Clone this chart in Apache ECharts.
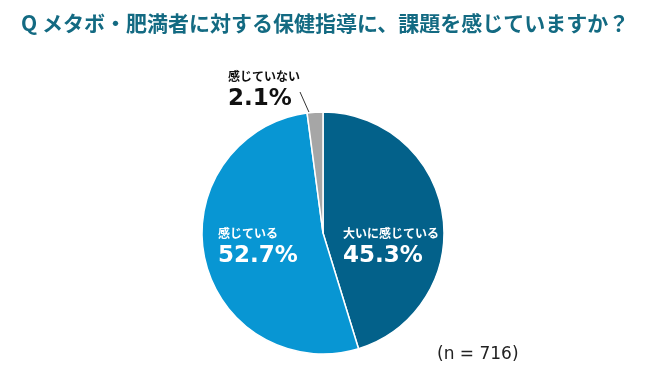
<!DOCTYPE html>
<html>
<head>
<meta charset="utf-8">
<script src="https://cdn.jsdelivr.net/npm/echarts@6/dist/echarts.min.js"></script>
<style>
html,body{margin:0;padding:0;background:#fff;}
#chart{width:649px;height:375px;}
</style>
</head>
<body>
<div id="chart"></div>
<script>
const titleText = 'Q メタボ・肥満者に対する保健指導に、課題を感じていますか？';
const categories = ['大いに感じている', '感じている', '感じていない'];
const values = [45.3, 52.7, 2.1];
const sliceColors = ['#03618a', '#0896d3', '#a6a6a6'];
const noteText = '(n = 716)';

const chart = echarts.init(document.getElementById('chart'));
const jp = '"Noto Sans CJK JP", sans-serif';
const num = '"DejaVu Sans", Verdana, sans-serif';

const data = categories.map((c, i) => {
  const d = { name: c, value: values[i], itemStyle: { color: sliceColors[i] } };
  if (i === 2) {
    d.label = {
      position: 'outside',
      formatter: p => '{n|' + p.name + '}\n{v|' + p.value.toFixed(1) + '%}',
      rich: {
        n: { fontFamily: jp, fontWeight: 'bold', fontSize: 12, color: '#111', lineHeight: 20, align: 'left' },
        v: { fontFamily: num, fontWeight: 'bold', fontSize: 23, color: '#111', lineHeight: 26, align: 'left' }
      }
    };
    d.labelLine = { show: true, showAbove: true, lineStyle: { color: '#333', width: 1 } };
  }
  return d;
});

chart.setOption({
  animation: false,
  title: {
    text: titleText,
    left: 16, top: 8,
    textStyle: { fontFamily: jp, fontWeight: 'bold', fontSize: 21, color: '#136a82' }
  },
  graphic: [{
    type: 'text', left: 437, top: 346,
    style: { text: noteText, fontFamily: num, fontSize: 17, fill: '#222' }
  }],
  series: [{
    type: 'pie',
    center: [323, 233],
    radius: [0, 121],
    startAngle: 90,
    clockwise: true,
    itemStyle: { borderColor: '#fff', borderWidth: 1.5 },
    label: {
      show: true,
      position: 'inside',
      formatter: p => '{n|' + p.name + '}\n{v|' + p.value.toFixed(1) + '%}',
      rich: {
        n: { fontFamily: jp, fontWeight: 'bold', fontSize: 12, color: '#fff', lineHeight: 20, align: 'left' },
        v: { fontFamily: num, fontWeight: 'bold', fontSize: 23, color: '#fff', lineHeight: 26, align: 'left' }
      }
    },
    labelLayout: function (p) {
      if (p.dataIndex === 0) return { x: 343, y: 246, align: 'left', verticalAlign: 'middle' };
      if (p.dataIndex === 1) return { x: 218, y: 246, align: 'left', verticalAlign: 'middle' };
      return { x: 228, y: 89, align: 'left', verticalAlign: 'middle',
        labelLinePoints: [[300, 92], [308, 110], [316, 127]] };
    },
    data: data
  }]
});
</script>
</body>
</html>
